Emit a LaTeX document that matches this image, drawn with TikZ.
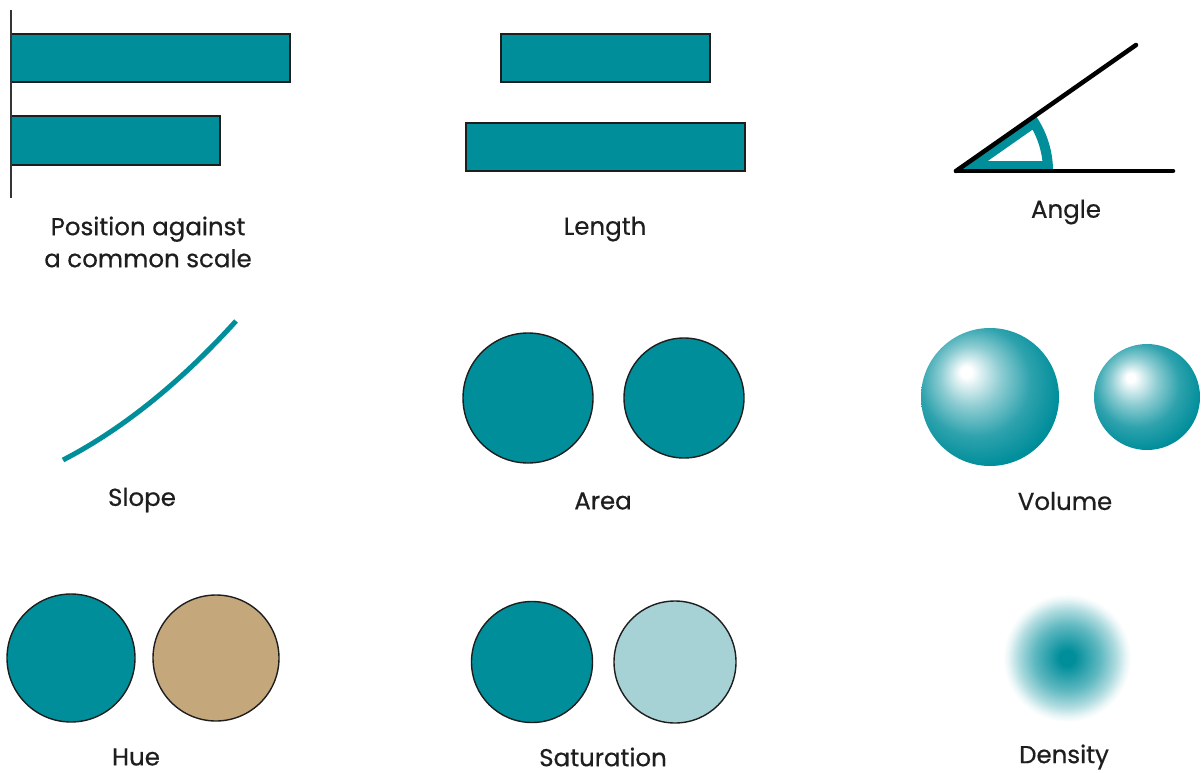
\documentclass[tikz,border=0pt]{standalone}
\usepackage{fontspec}
\setmainfont{Poppins}
\newfontfamily\lblfont{Poppins}[FakeBold=0.5]
\definecolor{tl}{RGB}{0,142,155}
\definecolor{tan}{RGB}{196,167,123}
\definecolor{pale}{RGB}{166,210,213}
\definecolor{ink}{RGB}{30,30,30}
% glossy sphere shadings with an off-centre highlight (path edge = 25bp)
\pgfdeclareradialshading{sphereA}{\pgfpoint{-9bp}{9.5bp}}{%
  color(0bp)=(white); color(2bp)=(white); color(11bp)=(tl!45!white);
  color(20bp)=(tl!82!white); color(29bp)=(tl); color(37bp)=(tl!88!black);
  color(50bp)=(tl!88!black)}
\pgfdeclareradialshading{sphereB}{\pgfpoint{-8bp}{9.5bp}}{%
  color(0bp)=(white); color(2bp)=(white); color(11bp)=(tl!45!white);
  color(20bp)=(tl!82!white); color(29bp)=(tl); color(37bp)=(tl!88!black);
  color(50bp)=(tl!88!black)}
% soft teal spot fading out to white
\pgfdeclareradialshading{haze}{\pgfpoint{0bp}{0bp}}{%
  color(0bp)=(tl); color(3bp)=(tl); color(13bp)=(tl!62!white);
  color(19bp)=(tl!32!white); color(23bp)=(tl!8!white); color(25bp)=(white);
  color(50bp)=(white)}
\begin{document}
\begin{tikzpicture}[x=1pt,y=-1pt,
  lbl/.style={font=\lblfont\fontsize{24.5}{32}\selectfont, text=ink, align=center, inner sep=0pt},
  bar/.style={fill=tl, draw=ink, line width=1.6pt},
  disc/.style={circle, draw=ink, line width=1.4pt, inner sep=0pt, fill=tl},
  axisline/.style={draw=ink!90, line width=1.8pt}]
\useasboundingbox[fill=white] (0,0) rectangle (1201,773);

% ---- position against a common scale
\coordinate (axtop) at (11,10);
\coordinate (axbot) at (11,198);
\draw[bar] (11,34) rectangle (290,82);
\draw[bar] (11,116) rectangle (220,165);
\draw[axisline] (axtop) -- (axbot);
\node[lbl] (lpos) at (148,242) {Position against\\a common scale};

% ---- length
\draw[bar] (501,34) rectangle (710,82);
\draw[bar] (466,123) rectangle (745,171);
\node[lbl] (llen) at (605,229) {Length};

% ---- angle
\coordinate (vx) at (956,171);
\coordinate (hend) at (1173,171);
\coordinate (oend) at (1136,45);
\begin{scope}
  \clip (vx) -- ++(0:97) arc (0:-35:97) -- cycle;
  \draw[tl, line width=20pt] (vx) -- ++(0:97) arc (0:-35:97) -- cycle;
\end{scope}
\draw[black, line width=4.5pt, line cap=round] (vx) -- (hend);
\draw[black, line width=4.5pt, line cap=round] (vx) -- (oend);
\node[lbl] (lang) at (1066,212) {Angle};

% ---- slope
\coordinate (s0) at (63,460);
\coordinate (s1) at (236,321);
\draw[tl, line width=5pt] (s0) .. controls (121,430) and (179,384) .. (s1);
\node[lbl] (lslope) at (142,500) {Slope};

% ---- area
\node[disc, minimum size=130pt] (a1) at (528,398) {};
\node[disc, minimum size=120pt] (a2) at (684,398) {};
\node[lbl] (larea) at (603,501) {Area};

% ---- volume
\path[shading=sphereA] (990,397) circle[radius=69];
\path[shading=sphereB] (1147,397) circle[radius=53];
\node[lbl] (lvol) at (1065,501) {Volume};

% ---- hue
\node[disc, minimum size=128pt] (h1) at (71,658) {};
\node[disc, minimum size=126pt, fill=tan] (h2) at (216,658) {};
\node[lbl] (lhue) at (136,757) {Hue};

% ---- saturation
\node[disc, minimum size=121pt] (t1) at (532,662) {};
\node[disc, minimum size=122pt, fill=pale] (t2) at (675,662) {};
\node[lbl] (lsat) at (603,757) {Saturation};

% ---- density
\path[shading=haze] (1067,658) circle[radius=64];
\node[lbl] (lden) at (1064,757) {Density};
\end{tikzpicture}
\end{document}
